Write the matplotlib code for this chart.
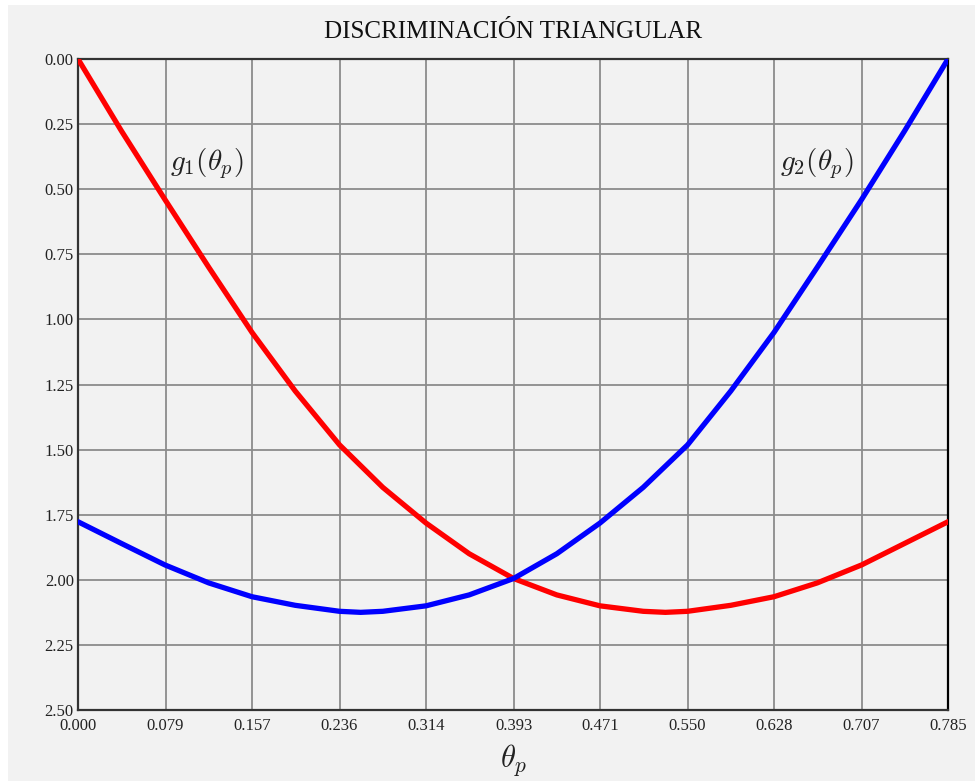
import numpy as np
import matplotlib
matplotlib.use("Agg")
import matplotlib.pyplot as plt
from matplotlib.patches import Rectangle

plt.rcParams['font.family'] = ['Liberation Serif', 'DejaVu Serif']
plt.rcParams['mathtext.fontset'] = 'cm'

# values
theta_red = [0.000, 0.039, 0.0785, 0.118, 0.157, 0.196, 0.236, 0.275, 0.314, 0.353,
             0.393, 0.432, 0.471, 0.510, 0.530, 0.550, 0.589, 0.628, 0.667, 0.707,
             0.746, 0.785]
g1 = [0.000, 0.275, 0.540, 0.800, 1.050, 1.275, 1.482, 1.645, 1.782, 1.900,
      1.995, 2.058, 2.100, 2.121, 2.125, 2.121, 2.098, 2.065, 2.012, 1.943,
      1.860, 1.777]

theta_blue = [0.000, 0.039, 0.0785, 0.118, 0.157, 0.196, 0.236, 0.255, 0.275, 0.314,
              0.353, 0.393, 0.432, 0.471, 0.510, 0.550, 0.589, 0.628, 0.667, 0.707,
              0.746, 0.785]
g2 = [1.777, 1.860, 1.943, 2.012, 2.065, 2.098, 2.121, 2.125, 2.121, 2.100,
      2.058, 1.995, 1.900, 1.782, 1.645, 1.482, 1.275, 1.050, 0.800, 0.540,
      0.275, 0.000]

x_ticks = [0.000, 0.079, 0.157, 0.236, 0.314, 0.393, 0.471, 0.550, 0.628, 0.707, 0.785]
x_labels = ['0.000', '0.079', '0.157', '0.236', '0.314', '0.393', '0.471', '0.550',
            '0.628', '0.707', '0.785']
y_ticks = [0.00, 0.25, 0.50, 0.75, 1.00, 1.25, 1.50, 1.75, 2.00, 2.25, 2.50]

fig = plt.figure(figsize=(9.75, 7.81), dpi=100, facecolor='white')
bg = Rectangle((8 / 975, 0), 1, 1 - 5 / 781, transform=fig.transFigure,
               facecolor='#f2f2f2', edgecolor='none', zorder=-10)
fig.add_artist(bg)

ax = fig.add_axes([78 / 975, 71 / 781, 870 / 975, 651 / 781])
ax.set_zorder(1)
ax.set_facecolor('#f2f2f2')

ax.plot(theta_red, g1, color='#ff0000', lw=3.8, solid_capstyle='round',
        solid_joinstyle='round', zorder=3)
ax.plot(theta_blue, g2, color='#0000ff', lw=3.8, solid_capstyle='round',
        solid_joinstyle='round', zorder=3)

ax.set_xlim(0, 0.785)
ax.set_ylim(2.5, 0)
ax.set_xticks(x_ticks)
ax.set_xticklabels(x_labels)
ax.set_yticks(y_ticks)
ax.set_yticklabels([f'{v:.2f}' for v in y_ticks])
ax.tick_params(length=0, labelsize=12, colors='#222222', pad=3)
ax.tick_params(axis='x', pad=6)
ax.grid(True, color='#8c8c8c', lw=1.3)
ax.set_axisbelow(True)
for side in ['left', 'bottom', 'top']:
    ax.spines[side].set_color('#333333')
    ax.spines[side].set_linewidth(1.6)
ax.spines['right'].set_color('black')
ax.spines['right'].set_linewidth(1.6)

ax.text(0.083, 0.40, r'$g_1(\theta_p)$', fontsize=21, color='#222222', va='center', ha='left')
ax.text(0.633, 0.40, r'$g_2(\theta_p)$', fontsize=21, color='#222222', va='center', ha='left')

fig.text(513 / 975, 1 - 32 / 781, 'DISCRIMINACIÓN TRIANGULAR', fontsize=18,
         ha='center', va='center', color='#111111')
fig.text(513 / 975, 1 - 760 / 781, r'$\theta_p$', fontsize=22, ha='center', va='center',
         color='#222222')

fig.savefig('out.png', dpi=100, facecolor=fig.get_facecolor())
